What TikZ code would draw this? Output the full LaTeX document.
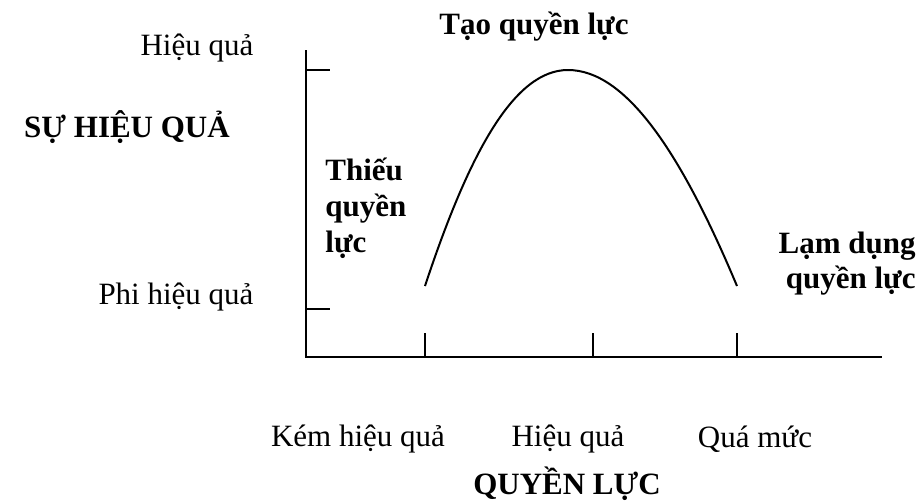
\documentclass[tikz,border=0pt]{standalone}
\usepackage{fontspec}
\setmainfont{Liberation Serif}
\usepackage{tikz}
\usetikzlibrary{positioning}

\begin{document}
\begin{tikzpicture}[
    x=0.5pt, y=-0.5pt,
    axis/.style={draw=black, line width=1.2pt},
    curve/.style={draw=black, line width=1pt},
    txt/.style={font=\fontsize{15.5}{17.5}\selectfont, inner sep=0pt},
    bold/.style={font=\fontsize{15.5}{17.5}\selectfont\bfseries, inner sep=0pt}
]
\useasboundingbox (0,0) rectangle (923,500);

% axes
\coordinate (origin) at (306,357);
\coordinate (ytop) at (306,50);
\coordinate (xend) at (882,357);
\draw[axis] (ytop) -- (origin) -- (xend);

% ticks on y axis
\coordinate (yhi) at (306,70);
\coordinate (ylo) at (306,309);
\draw[axis] (yhi) -- ++(24,0);
\draw[axis] (ylo) -- ++(24,0);

% ticks on x axis
\coordinate (xweak) at (425,357);
\coordinate (xgood) at (593,357);
\coordinate (xover) at (737,357);
\draw[axis] (xweak) -- ++(0,-24);
\draw[axis] (xgood) -- ++(0,-24);
\draw[axis] (xover) -- ++(0,-24);

% the curve
\coordinate (cstart) at (425,286);
\coordinate (cpeak) at (568,70);
\coordinate (cend) at (737,286);
\draw[curve] (cstart) .. controls (470,150) and (515,70) .. (cpeak)
             .. controls (625,70) and (680,150) .. (cend);

% labels
\node[txt] (hieuqua) at (197,48) {Hiệu quả};
\node[txt] (phihieuqua) at (176,297) {Phi hiệu quả};
\node[bold] (suhieuqua) at (127,127) {SỰ HIỆU QUẢ};
\node[bold] (taoql) at (534,27) {Tạo quyền lực};
\node[bold, align=left, anchor=west] (thieuql) at (325,208) {Thiếu\\[0.6pt]quyền\\[0.6pt]lực};
\node[bold, align=right, anchor=east] (lamdung) at (916,264) {Lạm dụng\\quyền lực};

\node[txt] (kem) at (358,439) {Kém hiệu quả};
\node[txt] (hq) at (568,439) {Hiệu quả};
\node[txt] (quamuc) at (755,439) {Quá mức};
\node[bold] (quyenluc) at (567,484) {QUYỀN LỰC};

\end{tikzpicture}
\end{document}
